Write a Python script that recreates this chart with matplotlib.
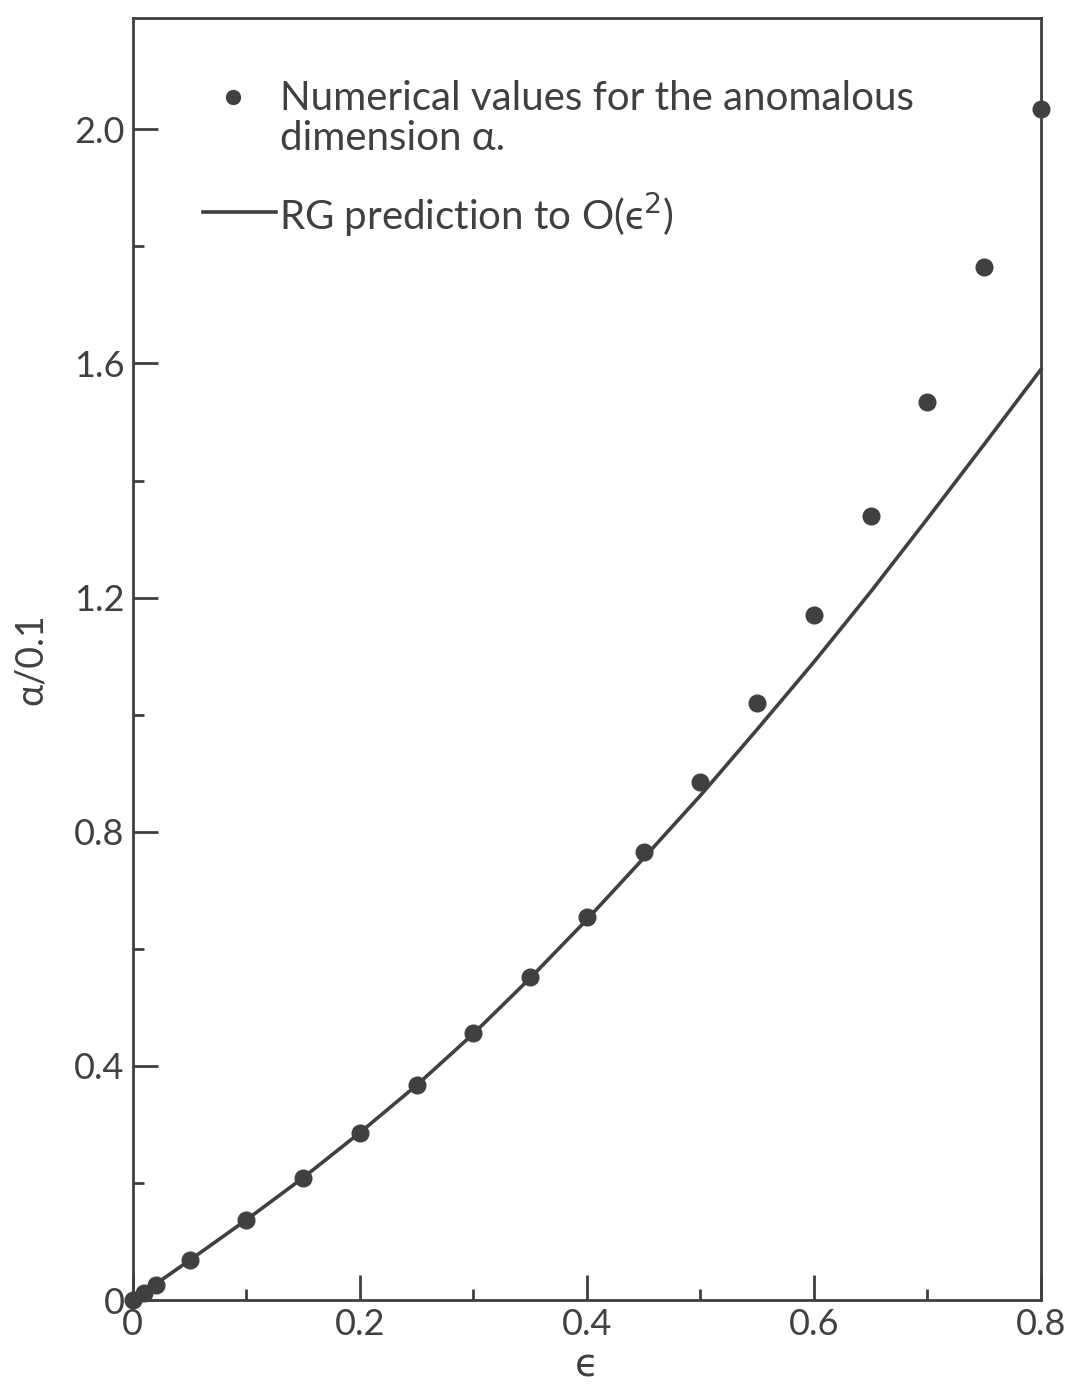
import matplotlib
matplotlib.use('Agg')
import matplotlib.pyplot as plt
from matplotlib.ticker import MultipleLocator, FixedFormatter, FixedLocator

# numerical values for the anomalous dimension (points)
eps_pts = [0.0, 0.01, 0.02, 0.05, 0.10, 0.15, 0.20, 0.25, 0.30, 0.35, 0.40,
           0.45, 0.50, 0.55, 0.60, 0.65, 0.70, 0.75, 0.80]
alpha_pts = [0.0, 0.012, 0.025, 0.068, 0.137, 0.209, 0.286, 0.367, 0.456, 0.552, 0.655,
             0.765, 0.885, 1.02, 1.17, 1.34, 1.535, 1.765, 2.035]

# RG prediction to O(eps^2)
eps_rg = [0.0, 0.05, 0.10, 0.15, 0.20, 0.25, 0.30, 0.35, 0.40, 0.45,
          0.50, 0.55, 0.60, 0.65, 0.70, 0.75, 0.80]
alpha_rg = [0.0, 0.068, 0.137, 0.209, 0.286, 0.367, 0.455, 0.550, 0.650, 0.755,
            0.862, 0.975, 1.090, 1.210, 1.335, 1.462, 1.590]

yticks = [0, 0.4, 0.8, 1.2, 1.6, 2.0]
ylabels = ['0', '0.4', '0.8', '1.2', '1.6', '2.0']
xticks = [0, 0.2, 0.4, 0.6, 0.8]
xlabels = ['0', '0.2', '0.4', '0.6', '0.8']

ink = '#404040'
plt.rcParams['font.family'] = ['Lato', 'DejaVu Sans']
plt.rcParams['mathtext.fontset'] = 'custom'
plt.rcParams['mathtext.rm'] = 'DejaVu Sans'
plt.rcParams['mathtext.it'] = 'DejaVu Sans'

fig = plt.figure(figsize=(10.71, 13.89), dpi=100)
ax = fig.add_axes([0.124, 0.064, 0.848, 0.923])

ax.plot(eps_rg, alpha_rg, color=ink, lw=2.6, zorder=2, clip_on=False)
ax.plot(eps_pts, alpha_pts, 'o', color=ink, ms=12, zorder=3, clip_on=False)

ax.set_xlim(0, 0.8)
ax.set_ylim(0, 2.19)

ax.xaxis.set_major_locator(FixedLocator(xticks))
ax.xaxis.set_major_formatter(FixedFormatter(xlabels))
ax.xaxis.set_minor_locator(MultipleLocator(0.1))
ax.yaxis.set_major_locator(FixedLocator(yticks))
ax.yaxis.set_major_formatter(FixedFormatter(ylabels))
ax.yaxis.set_minor_locator(MultipleLocator(0.2))

ax.tick_params(which='both', direction='in', color=ink, width=2, labelcolor=ink,
               labelsize=26, top=False, right=False)
ax.tick_params(which='major', length=18)
ax.tick_params(which='minor', length=8)
ax.tick_params(axis='x', pad=6)
ax.tick_params(axis='y', pad=6)
for s in ax.spines.values():
    s.set_color(ink)
    s.set_linewidth(2)

ax.set_xlabel('ϵ', fontsize=28, color=ink, labelpad=4, family='DejaVu Sans')
ax.set_ylabel('α/0.1', fontsize=27, color=ink, labelpad=18)

# legend drawn as text, like the original
ax.plot([0.088], [2.055], 'o', color=ink, ms=10)
ax.text(0.130, 2.052, 'Numerical values for the anomalous', fontsize=29, color=ink,
        va='center', ha='left')
ax.text(0.130, 1.985, 'dimension α.', fontsize=29, color=ink, va='center', ha='left')
ax.plot([0.062, 0.126], [1.858, 1.858], color=ink, lw=2.6)
ax.text(0.129, 1.853, r'RG prediction to O(ϵ$^2$)', fontsize=29, color=ink,
        va='center', ha='left')

fig.savefig('out.png', dpi=100)
